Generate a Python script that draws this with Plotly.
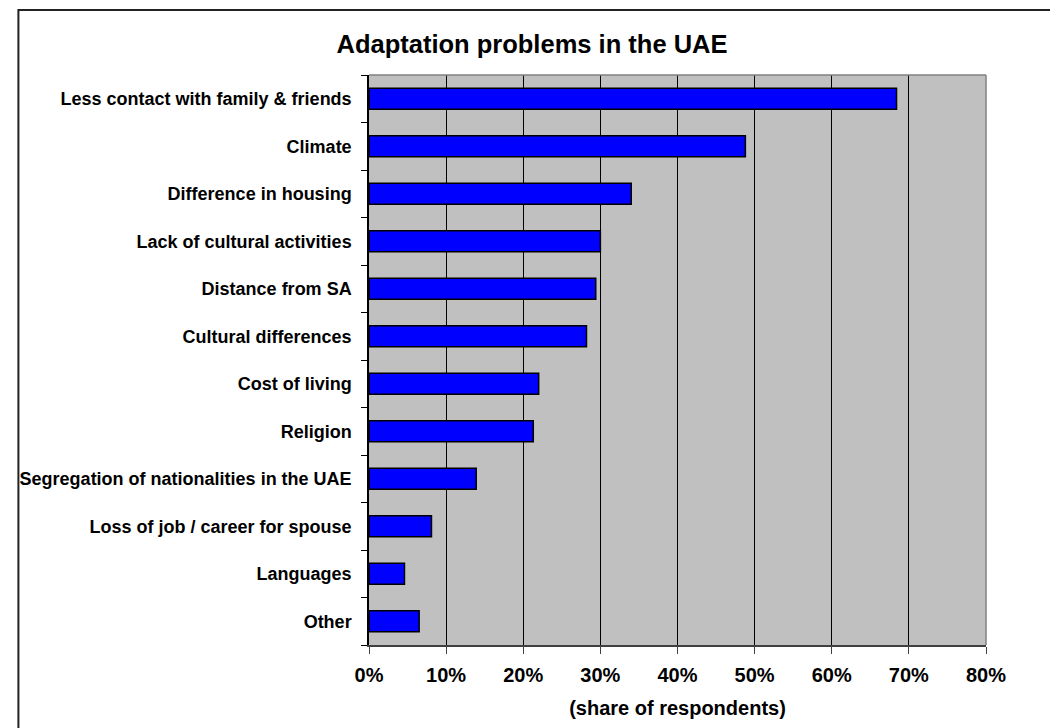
import plotly.graph_objects as go

categories = [
    "Less contact with family & friends",
    "Climate",
    "Difference in housing",
    "Lack of cultural activities",
    "Distance from SA",
    "Cultural differences",
    "Cost of living",
    "Religion",
    "Segregation of nationalities in the UAE",
    "Loss of job / career for spouse",
    "Languages",
    "Other",
]
shares = [0.684, 0.488, 0.340, 0.300, 0.294, 0.282, 0.220, 0.213, 0.139, 0.081, 0.046, 0.065]
x_ticks = [0, 0.1, 0.2, 0.3, 0.4, 0.5, 0.6, 0.7, 0.8]

# page has an 8px body margin, so the figure is drawn 8px in from the top-left
W, H = 1050, 720
L, R, T, B = 355, 72, 67, 78
pw, ph = W - L - R, H - T - B
FONT = "Liberation Sans, Arial, sans-serif"

fig = go.Figure(go.Bar(
    x=shares,
    y=categories,
    orientation="h",
    marker=dict(color="#0000FF", line=dict(color="#000000", width=1.5)),
    hoverinfo="x+y",
))

fig.update_layout(
    width=W, height=H,
    margin=dict(l=L, r=R, t=T, b=B, pad=0),
    paper_bgcolor="white",
    plot_bgcolor="#C0C0C0",
    bargap=0.56,
    showlegend=False,
    title=dict(
        text="<b>Adaptation problems in the UAE</b>",
        x=524 / W, xanchor="center",
        y=1 - 36 / H, yanchor="middle",
        font=dict(family=FONT, size=25.5, color="black"),
    ),
    font=dict(family=FONT, color="black"),
)

fig.update_xaxes(
    range=[0, 0.8],
    tickvals=x_ticks,
    tickformat=".0%",
    tickfont=dict(family=FONT, size=20, color="black", weight="bold"),
    showgrid=True, gridcolor="black", gridwidth=1,
    zeroline=False,
    showline=True, linecolor="#404040", linewidth=2,
    ticks="outside", ticklen=7, tickcolor="#404040", tickwidth=1,
    ticklabelstandoff=4,
    title=dict(text="<b>(share of respondents)</b>",
               font=dict(family=FONT, size=20, color="black"),
               standoff=16),
    fixedrange=True,
)

fig.update_yaxes(
    categoryorder="array",
    categoryarray=categories[::-1],
    autorange=False,
    range=[-0.5, len(categories) - 0.5],
    tickfont=dict(family=FONT, size=18, color="black", weight="bold"),
    showline=True, linecolor="black", linewidth=1.5,
    ticks="outside", ticklen=6, tickcolor="black", tickwidth=1,
    tickson="boundaries",
    ticklabelstandoff=12,
    showgrid=False,
    fixedrange=True,
)

# plot-area border (gray) on top and right
fig.add_shape(type="line", xref="paper", yref="paper", x0=0, x1=1, y0=1, y1=1,
              line=dict(color="#808080", width=1.5))
fig.add_shape(type="line", xref="paper", yref="paper", x0=1, x1=1, y0=0, y1=1,
              line=dict(color="#808080", width=1.5))

# outer chart border
fig.add_shape(type="rect", xref="paper", yref="paper",
              x0=(1 - L) / pw, x1=(W + 20 - L) / pw,
              y0=(H - B - (H + 20)) / ph, y1=(H - B - 1.5) / ph,
              line=dict(color="#222222", width=2), fillcolor="rgba(0,0,0,0)",
              layer="above")

fig.write_html("out.html")
